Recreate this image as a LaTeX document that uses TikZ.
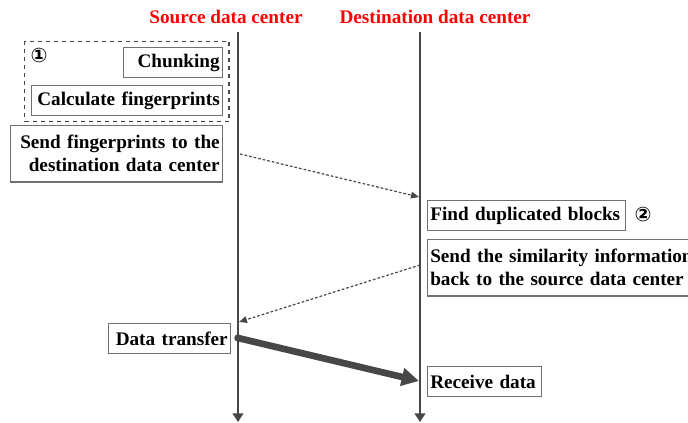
\documentclass[tikz,border=0pt]{standalone}
\usepackage{fontspec}
\setmainfont{Liberation Serif}
\newfontfamily\symfont{DejaVu Sans}
\usetikzlibrary{arrows.meta}
\usetikzlibrary{fit}

\definecolor{linegray}{HTML}{474747}
\definecolor{boxgray}{HTML}{707070}

\begin{document}
\begin{tikzpicture}[x=0.75pt, y=-0.75pt,
    stepbox/.style={draw=boxgray, line width=0.9pt, inner xsep=2pt, inner ysep=2pt,
        minimum height=22.5pt, font=\fontsize{14.4}{17.25}\selectfont\bfseries},
    titlelabel/.style={text=red, font=\fontsize{14.4}{17.25}\selectfont\bfseries},
    lifeline/.style={draw=linegray, line width=2.2pt, -{Triangle[length=6.5pt, width=8pt]}},
    message/.style={draw=linegray, line width=0.9pt, dash pattern=on 2pt off 1.5pt,
        -{Triangle[length=6pt, width=5pt]}},
    stepnum/.style={font=\symfont\bfseries\fontsize{15}{15}\selectfont}
  ]
  \useasboundingbox (0,0) rectangle (688,423);
  \clip (0,0) rectangle (688,423);

  % Data center titles
  \node[titlelabel] (srctitle) at (226,17) {Source data center};
  \node[titlelabel] (dsttitle) at (435,17) {Destination data center};

  % Lifelines
  \coordinate (srctop) at (238,32);
  \coordinate (srcbot) at (238,422);
  \coordinate (dsttop) at (420,32);
  \coordinate (dstbot) at (420,422);
  \draw[lifeline] (srctop) -- (srcbot);
  \draw[lifeline] (dsttop) -- (dstbot);

  % Steps at the source
  \node[stepbox, anchor=north east, text width=70.25pt, align=right] (chunk) at (223,47) {Chunking};
  \node[stepbox, anchor=north east, text width=139.25pt, align=right] (calcfp) at (223,85) {Calculate fingerprints};
  \node[draw=linegray, line width=0.8pt, dashed, inner xsep=4.5pt, inner ysep=4.2pt, fit=(chunk) (calcfp)] (group) {};
  \node[stepnum] (numone) at (39,56) {①};
  \node[stepbox, anchor=north east, text width=155pt, align=right, inner ysep=7.4pt] (sendfp) at (223,125)
      {Send fingerprints to the\\destination data center};

  % Steps at the destination
  \node[stepbox, anchor=north west, text width=144.5pt, align=left] (finddup) at (427,200) {Find duplicated blocks};
  \node[stepnum] (numtwo) at (643,215) {②};
  \node[stepbox, anchor=north west, text width=230pt, align=left, inner ysep=7.4pt] (sendsim) at (427,239)
      {Send the similarity information\\back to the source data center};

  % Transfer
  \node[stepbox, anchor=north east, text width=87.5pt, align=right] (transfer) at (231,323) {Data transfer};
  \node[stepbox, anchor=north west, text width=81.5pt, align=left] (receive) at (427,366) {Receive data};

  % Messages between the data centers
  \coordinate (fpout) at (240,154);
  \coordinate (fpin) at (419,197);
  \coordinate (simout) at (420,265);
  \coordinate (simin) at (239,322);
  \coordinate (dataout) at (238,338);
  \coordinate (datain) at (419,381);
  \draw[message] (fpout) -- (fpin);
  \draw[message] (simout) -- (simin);
  \fill[linegray] (dataout) circle (2.8pt);
  \draw[draw=linegray, line width=5pt, -{Triangle[length=13pt, width=13pt]}] (dataout) -- (datain);

\end{tikzpicture}
\end{document}
